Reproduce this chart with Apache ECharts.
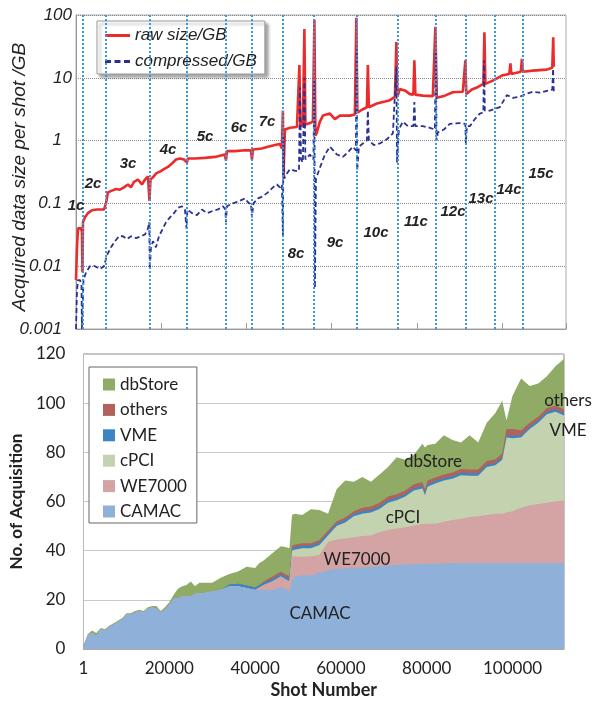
<!DOCTYPE html>
<html><head><meta charset="utf-8">
<script src="https://cdn.jsdelivr.net/npm/echarts@6/dist/echarts.min.js"></script>
<style>html,body{margin:0;padding:0;background:#fff}#c{width:594px;height:702px}</style>
</head><body><div id="c"></div>
<script>
// ---------- Top chart data ----------
const campaignBoundaries = [1570, 6870, 17360, 25970, 35190, 41220, 48630, 55900, 65850, 75470, 84460, 91500, 98230, 104800];
const campaignNames = ['1c','2c','3c','4c','5c','6c','7c','8c','9c','10c','11c','12c','13c','14c','15c'];

const rawShot = [0,235,470,820,1170,1400,1520,1640,2110,2800,
3750,4930,6570,6800,7040,7500,8450,9380,10300,11260,
12200,12900,13600,14550,15480,16190,16900,17240,17480,18060,
18770,19700,20640,21580,22520,23460,24400,25340,26040,26270,
27920,30260,32610,34020,34950,35190,35420,37300,39650,41060,
41290,41520,43630,45040,46690,47860,48330,48560,48680,49040,
50220,51860,52430,52670,53250,53600,53840,54900,55600,55950,
56190,56540,57240,57950,59590,60760,61930,64280,65450,65800,
66040,67100,68270,68500,68740,70620,72500,73670,74850,75190,
75430,76010,77180,78360,79180,79410,79650,81400,83750,84340,
84690,86570,88440,90790,91380,91610,92900,94080,95600,95850,
96080,96440,97830,99010,100170,101700,101950,102180,104400,104650,
104870,107210,110500,111780,112010,112130];
const rawSize = [0.006,0.02,0.04,0.042,0.04,0.035,0.008,0.05,0.06,0.07,
0.078,0.08,0.08,0.075,0.1,0.15,0.16,0.17,0.165,0.18,
0.2,0.18,0.22,0.24,0.2,0.24,0.27,0.11,0.24,0.26,
0.3,0.32,0.35,0.38,0.43,0.5,0.52,0.5,0.45,0.52,
0.52,0.53,0.55,0.58,0.6,0.48,0.68,0.68,0.7,0.7,
0.5,0.72,0.75,0.8,0.85,0.88,0.75,3.0,0.25,1.5,
1.6,1.65,16,1.7,1.75,60,1.8,1.9,2.0,85,
1.2,1.35,2.0,2.5,2.7,2.2,2.5,2.5,2.6,90,
2.8,3.1,3.4,16,3.4,3.9,4.2,4.4,5,37,
5,6.6,6.3,5.5,5.4,19,5.4,5.2,5.1,65,
4.8,5.2,5.9,6,19,5.5,6.5,7,8,53,
8,8.5,9,10,11,11.5,17,11.5,12.5,20,
12.5,13,13.5,14.5,44,15];

const compShot = [0,235,470,940,1290,1400,1570,1760,2350,3280,
4460,5630,6570,7270,8210,9150,10090,11030,11960,12900,
14080,15250,16190,16900,17200,17310,17600,18060,18770,19470,
20410,21110,22050,22990,23930,24870,25570,25920,26160,27210,
28390,29560,30730,31910,33310,34490,35070,35190,35420,36830,
38470,39650,40590,41060,41290,41640,42700,43870,45040,46220,
47150,47860,48330,48560,48680,48910,49500,50220,51390,52330,
52560,52800,53250,53600,53840,54900,55720,55950,56070,56310,
56770,57240,58410,59590,61230,62640,63810,64980,65690,65870,
65990,66390,67330,68270,68500,68740,69910,71320,72960,74370,
75190,75350,75770,76710,77880,79180,79410,79650,81400,83050,
84220,84460,84620,84930,86330,87740,90080,91380,91500,91730,
92440,93610,94780,95600,95760,95950,97120,98290,99470,101110,
102520,104160,105810,107210,108850,110500,111780,111970,112130];
const compSize = [0.001,0.004,0.006,0.006,0.005,0.001,0.001,0.006,0.008,0.01,
0.01,0.009,0.01,0.015,0.02,0.025,0.03,0.03,0.027,0.03,
0.028,0.03,0.032,0.04,0.05,0.009,0.02,0.025,0.02,0.03,
0.04,0.05,0.06,0.07,0.085,0.09,0.08,0.04,0.08,0.07,
0.065,0.08,0.07,0.075,0.08,0.09,0.08,0.05,0.09,0.1,
0.11,0.12,0.1,0.1,0.06,0.1,0.12,0.13,0.15,0.18,
0.2,0.18,0.2,0.03,1.2,0.25,0.3,0.35,0.33,0.33,
7,0.5,0.45,10,0.5,0.6,0.5,9,0.0045,0.25,
0.3,0.37,0.6,0.8,0.6,0.55,0.65,0.8,0.7,31,
0.33,0.8,0.9,1,3,1,0.85,0.9,1.05,1.3,
15,0.45,1.5,2,1.7,1.7,4.1,1.7,1.7,1.6,
1.5,25,1.0,1.35,1.5,1.85,1.9,1.85,0.9,1.7,
1.7,2.2,2.7,2.8,19,3,3,3.2,3.4,5.3,
4.8,5,5.6,6,5.8,6.2,6.5,14,6];

// ---------- Bottom chart data ----------
const shots = [0,1000,2000,3000,4000,5000,6000,7000,8000,9000,
10000,11000,12000,13000,14000,15000,16000,17000,18000,19000,
20000,21000,22000,23000,24000,25000,26000,27000,28000,
30000,32000,34000,36000,38000,40000,
41000,42000,44000,46000,47000,48000,
48600,49200,
51000,53000,55000,57000,59000,61000,63000,65000,67000,69000,71000,73000,75000,77000,79000,
79600,80200,
82000,84000,86000,88000,90000,92000,94000,96000,
97600,98600,
100000,102000,104000,106000,108000,110000,112000];
const camac = [1,5.5,6.5,5.5,8,7.5,9,10,11,12,
14,14,15,15.5,15,16.5,17,16.5,14.8,16,
18,20.5,20.5,21.5,21.5,21.5,22.5,22.8,22.8,
23.5,24,25.5,25.5,24.8,24,
24,24,24,25,24.5,23.5,
28,29.5,
30,30,31,32,32.5,32.7,33,33.2,33.4,33.8,34,34.3,34.4,34.5,34.6,
34.6,34.7,
34.7,34.8,35,35,35,35,35,35,
35,35,
35,35,35,35,35,35,35];
const we7000 = [0,0,0,0,0,0,0,0,0,0,
0,0,0,0,0,0,0,0,0,0,
0,0,0,0,0,0,0,0,0,
0,0,0,0,0,0,
1,2,3.5,4.5,4,4,
9.5,8.2,
7.5,7.7,7.2,11.5,12,12.3,12.5,12.8,12.8,13.7,14.5,14.7,15.1,15.7,16.2,
16.2,16.3,
16.3,17,17.5,18,18.7,19,19.5,20,
20,20.5,
21,22.5,23.5,24,24.5,25,25.5];
const cpci = [0,0,0,0,0,0,0,0,0,0,
0,0,0,0,0,0,0,0,0,0,
0,0,0,0,0,0,0,0,0,
0,0,0,0,0,0,
0,0,0,0,0,0,
2.5,2.7,
3.5,3.3,4.1,2.7,5.5,6.5,8.5,9,9.3,9.5,11,11.5,12.5,14.3,14.5,
11.7,15,
16.3,16.7,16.8,17.7,16.8,16.5,19.5,19.7,
22,30.5,
29.7,28.5,31,33,36,36.5,34.5];
const vme = [0,0,0,0,0,0,0,0,0,0,
0,0,0,0,0,0,0,0,0,0,
0,0,0,0,0,0,0,0,0,
0,0,0.7,1,1,1,
1,1,1,1,1,1,
1,1,
1,1,1,1,1,1,1,1,1,1,1,1,1,1,1,
1,1,
1,1,1,1,1,1,1,1,
1,1,
1,1,1,1,1,1,1];
const others = [0,0,0,0,0,0,0,0,0,0,
0,0,0,0,0,0,0,0,0,0,
0,0,0,0,0,0,0,0,0,
0,0,0,0,0,0,
0,0.5,1,1,1,1,
1,1,
1,1,1,1,1,1,1,1.5,1.5,1.5,1.5,1.5,1.5,1.5,1.5,
1.5,1.5,
1.5,1.5,1.5,1.5,1.5,1.5,1.5,1.5,
1.5,2.5,
2.8,2,1.5,1.5,1.5,1.5,1.5];
const dbStore = [0.5,0.5,1,1,0.5,0.5,0.5,0.5,0.5,0.5,
0.5,0.5,0.5,0.5,0.5,0.5,0.5,1,0.7,1,
1,1.5,4,4,4.5,6,3,4.2,4.2,
3.5,5,4.3,5,7.7,8,
9,8.5,9.5,10.3,11,11.5,
12.5,12.6,
11.5,13.8,12.2,6.8,13,15,12,12.5,10,11.5,12,15,12.5,12,15.7,
17,14.5,
13.7,16,13.2,10.8,14,11,15.5,18.8,
21.5,3.5,
13.5,21,15,13.5,13,16,20.5];

const xTopMax = 115000, xBotMax = 112000;
const yBotMax = 120;

// ---------- build ----------
const zip = (a, b) => a.map((v, i) => [v, b[i]]);
const stackNames = ['CAMAC','WE7000','cPCI','VME','others','dbStore'];
const stackValues = [camac, we7000, cpci, vme, others, dbStore];
const stackColors = ['#8fb0d8','#d4a3a4','#c3d3b0','#3b86c2','#b2625d','#8fab66'];
// cumulative tops for stacking
const cumulative = [];
stackValues.forEach((arr, i) => cumulative.push(arr.map((v, j) => v + (i ? cumulative[i - 1][j] : 0))));

const topFont = 'Liberation Sans, Arial, sans-serif';
const botFont = 'Lato, sans-serif';

// layout of annotation texts (pixel centres)
const campaignLabelPx = [[76,206],[93,184],[128,164],[168,150],[205,137],[239,128],[267,122],[296,254],[335,243],[376,233],[416,222],[453,212],[481,199],[509,190],[541,174]];
const seriesLabelPx = {CAMAC:[320,614], WE7000:[357,560], cPCI:[403,518], dbStore:[433,462], others:[568,401], VME:[568,431]};

const graphic = [];
campaignNames.forEach((t, i) => graphic.push({
  type: 'text', x: campaignLabelPx[i][0], y: campaignLabelPx[i][1], z: 100,
  style: { text: t, font: 'italic bold 15px ' + topFont, fill: '#222', align: 'center', verticalAlign: 'middle' }
}));
Object.keys(seriesLabelPx).forEach(k => graphic.push({
  type: 'text', x: seriesLabelPx[k][0], y: seriesLabelPx[k][1], z: 100,
  style: { text: k, font: '17px ' + botFont, fill: '#222', align: 'center', verticalAlign: 'middle' }
}));
graphic.push({
  type: 'text', x: 20, y: 177, rotation: Math.PI / 2, z: 100,
  style: { text: 'Acquired data size per shot /GB', font: 'italic 19px ' + topFont, fill: '#222', align: 'center', verticalAlign: 'middle' }
});

const series = [
  { name: 'bounds', type: 'line', xAxisIndex: 0, yAxisIndex: 0, data: [], z: 1, silent: true,
    markLine: { silent: true, symbol: ['none','none'], label: { show: false },
      lineStyle: { type: 'dotted', color: '#3a98de', width: 2 },
      data: campaignBoundaries.map(v => ({ xAxis: v })) } },
  { name: 'compressed/GB', type: 'line', xAxisIndex: 0, yAxisIndex: 0, data: zip(compShot, compSize),
    symbol: 'none', z: 3, color: '#2b3193', lineStyle: { color: '#2b3193', width: 1.8, type: [5, 3] } },
  { name: 'raw size/GB', type: 'line', xAxisIndex: 0, yAxisIndex: 0, data: zip(rawShot, rawSize),
    symbol: 'none', z: 2, color: '#ec2b2b', lineStyle: { color: '#ec2b2b', width: 2.6 } }
];
stackNames.forEach((n, i) => series.push({
  name: n, type: 'line', xAxisIndex: 1, yAxisIndex: 1, symbol: 'none', z: 10 - i,
  data: zip(shots, cumulative[i]), color: stackColors[i],
  lineStyle: { width: 0 }, areaStyle: { color: stackColors[i], opacity: 1, origin: 'start' }
}));

const lineIcon = 'path://M0,0H25V3H0Z';
const dashIcon = 'path://M0,0H6V3H0Z M9.5,0H15.5V3H9.5Z M19,0H25V3H19Z';

const option = {
  animation: false,
  backgroundColor: '#fff',
  grid: [
    { left: 76, right: 28, top: 15, height: 314, show: true, borderColor: '#aaa', borderWidth: 1 },
    { left: 74, right: 30, top: 354, height: 295, show: true, borderColor: '#888', borderWidth: 1 }
  ],
  xAxis: [
    { type: 'value', gridIndex: 0, min: 0, max: xTopMax, interval: 20000,
      axisLine: { show: true, lineStyle: { color: '#999' } },
      axisTick: { show: true, inside: true, length: 6, lineStyle: { color: '#999' } },
      axisLabel: { show: false }, splitLine: { show: false } },
    { type: 'value', gridIndex: 1, min: 0, max: xBotMax, interval: 10000,
      axisLine: { show: true, lineStyle: { color: '#aaa' } },
      axisTick: { show: true, inside: true, length: 5, lineStyle: { color: '#aaa' } },
      axisLabel: { margin: 11, fontFamily: botFont, fontSize: 17, color: '#222', showMaxLabel: false,
        formatter: v => (v % 20000 === 0 ? (v === 0 ? '1' : String(v)) : '') },
      splitLine: { show: false },
      name: 'Shot Number', nameLocation: 'middle', nameGap: 32,
      nameTextStyle: { fontFamily: botFont, fontWeight: 'bold', fontSize: 18, color: '#222' } }
  ],
  yAxis: [
    { type: 'log', gridIndex: 0, logBase: 10, min: 0.001, max: 100,
      axisLine: { show: true, lineStyle: { color: '#999' } }, axisTick: { show: false },
      axisLabel: { margin: 4, fontFamily: topFont, fontStyle: 'italic', fontSize: 17, color: '#222',
        formatter: v => { const s = String(Number(v.toPrecision(1))); return v < 5 ? '{s|' + s + '}' : s; },
        rich: { s: { fontFamily: topFont, fontStyle: 'italic', fontSize: 17, color: '#222', padding: [0, 10, 0, 0] } } },
      splitLine: { show: true, lineStyle: { type: 'dotted', color: '#888', width: 1 } } },
    { type: 'value', gridIndex: 1, min: 0, max: yBotMax, interval: 20,
      axisLine: { show: true, lineStyle: { color: '#bbb' } }, axisTick: { show: false },
      axisLabel: { margin: 18, fontFamily: botFont, fontSize: 17, color: '#222' },
      splitLine: { show: true, lineStyle: { color: '#c8c8c8', width: 1 } },
      name: 'No. of Acquisition', nameLocation: 'middle', nameGap: 52,
      nameTextStyle: { fontFamily: botFont, fontWeight: 'bold', fontSize: 17, color: '#222' } }
  ],
  legend: [
    { data: [{ name: 'raw size/GB', icon: lineIcon }, { name: 'compressed/GB', icon: dashIcon }],
      orient: 'vertical', left: 97, top: 21,
      itemWidth: 25, itemHeight: 3, itemGap: 9, padding: [6, 8, 4, 8],
      backgroundColor: '#fff', borderColor: '#999', borderWidth: 1,
      shadowColor: 'rgba(0,0,0,0.35)', shadowBlur: 3, shadowOffsetX: 3, shadowOffsetY: 3,
      textStyle: { fontFamily: topFont, fontStyle: 'italic', fontSize: 17, color: '#222' } },
    { data: ['dbStore','others','VME','cPCI','WE7000','CAMAC'], orient: 'vertical', left: 89, top: 367,
      icon: 'rect', itemWidth: 12, itemHeight: 12, itemGap: 8.4, padding: [9, 10, 3, 14],
      backgroundColor: '#fff', borderColor: '#666', borderWidth: 1,
      textStyle: { fontFamily: botFont, fontSize: 17, color: '#222' } }
  ],
  graphic: graphic,
  series: series
};

const chart = echarts.init(document.getElementById('c'), null, { renderer: 'canvas' });
chart.setOption(option);
</script></body></html>
